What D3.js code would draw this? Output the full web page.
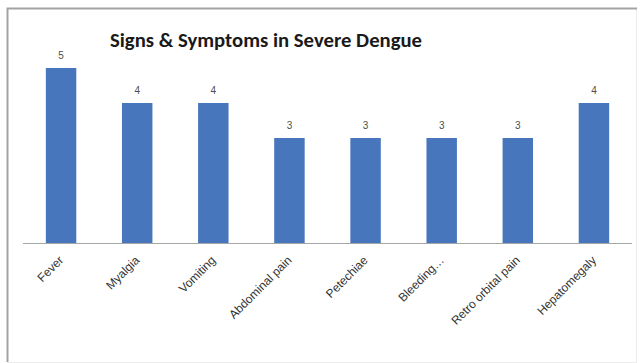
<!DOCTYPE html>
<html>
<head>
<meta charset="utf-8">
<script src="https://cdn.jsdelivr.net/npm/d3@7"></script>
<style>
  html, body { margin: 0; padding: 0; background: #fff; }
  svg { display: block; }
</style>
</head>
<body>
<svg id="chart" width="644" height="363"></svg>
<script>
// Severe dengue: number of patients presenting each sign or symptom
const symptoms = ["Fever", "Myalgia", "Vomiting", "Abdominal pain", "Petechiae", "Bleeding\u2026", "Retro orbital pain", "Hepatomegaly"];
const counts = [5, 4, 4, 3, 3, 3, 3, 4];
const chartTitle = "Signs & Symptoms in Severe Dengue";

const svg = d3.select("#chart");
const plot = { left: 23, right: 632, top: 68, bottom: 243 };

// Chart area frame: light right/bottom edges, darker top/left edges
svg.append("rect")
  .attr("x", 7.5).attr("y", 8.5)
  .attr("width", 629).attr("height", 354)
  .attr("fill", "#fff")
  .attr("stroke", "#ececec")
  .attr("stroke-width", 1);
svg.append("path")
  .attr("d", "M7.5,362V8.5H637")
  .attr("fill", "none")
  .attr("stroke", "#a3a3a3")
  .attr("stroke-width", 2);

const x = d3.scaleBand()
  .domain(symptoms)
  .range([plot.left, plot.right])
  .paddingInner(0.6)
  .paddingOuter(0.3);

const y = d3.scaleLinear()
  .domain([0, 5])
  .range([plot.bottom, plot.top]);

// Title
svg.append("text")
  .attr("x", 266).attr("y", 47)
  .attr("text-anchor", "middle")
  .attr("font-family", "Carlito, 'Open Sans', 'Liberation Sans', sans-serif")
  .attr("font-weight", "bold")
  .attr("font-size", 21)
  .attr("fill", "#1a1a1a")
  .attr("textLength", 312)
  .attr("lengthAdjust", "spacingAndGlyphs")
  .text(chartTitle);

const data = symptoms.map((s, i) => ({ s, v: counts[i] }));

// Bars
svg.append("g").selectAll("rect")
  .data(data)
  .join("rect")
  .attr("x", d => x(d.s))
  .attr("y", d => y(d.v))
  .attr("width", x.bandwidth())
  .attr("height", d => y(0) - y(d.v))
  .attr("fill", "#4776bc");

// Value labels
svg.append("g").selectAll("text")
  .data(data)
  .join("text")
  .attr("x", d => x(d.s) + x.bandwidth() / 2)
  .attr("y", d => y(d.v) - 9)
  .attr("text-anchor", "middle")
  .attr("font-family", "'Liberation Sans', sans-serif")
  .attr("font-size", 10)
  .attr("fill", "#4d4d4d")
  .text(d => d.v);

// Category axis
const xAxis = d3.axisBottom(x).tickSize(0).tickPadding(0);
const gx = svg.append("g")
  .attr("transform", `translate(0,${plot.bottom})`)
  .call(xAxis);
gx.select(".domain").attr("stroke", "#a6a6a6").attr("d", `M${plot.left},0.5H${plot.right}`);
gx.selectAll(".tick text")
  .attr("font-family", "'Liberation Sans', sans-serif")
  .attr("font-size", 12)
  .attr("fill", "#333")
  .attr("text-anchor", "end")
  .attr("dy", 0)
  .attr("transform", "translate(3,18) rotate(-45)");
</script>
</body>
</html>
